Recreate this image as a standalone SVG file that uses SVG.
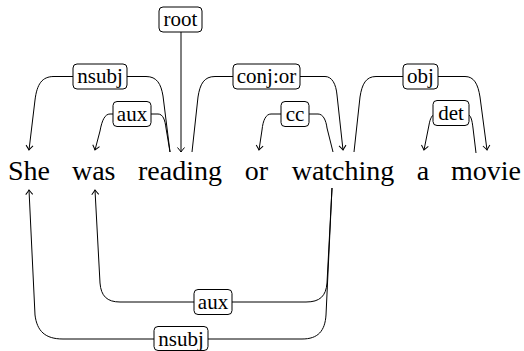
<svg xmlns="http://www.w3.org/2000/svg" width="524" height="351" viewBox="0 0 524 351">
<style>
.w{font-size:28px;fill:#000;text-anchor:middle}
.l{font-size:21px;fill:#000;text-anchor:middle}
.e{fill:none;stroke:#000;stroke-width:1}
.b{fill:#fff;stroke:#000;stroke-width:1}
</style>
<defs>
<marker id="ah" viewBox="-6 -5 7 10" markerWidth="7" markerHeight="10" refX="0" refY="0" orient="auto" markerUnits="userSpaceOnUse">
<path d="M-4.5,-3.5 Q-1.5,-1 0,0 Q-1.5,1 -4.5,3.5" fill="none" stroke="#000" stroke-width="1"/>
</marker>
</defs>
<rect width="524" height="351" fill="#fff"/>
<g id="connectors">
<path class="e" marker-end="url(#ah)" d="M181,32 L181,152"/>
<path class="e" marker-end="url(#ah)" d="M170,152 L163,96 C161,84 157,76.5 146,76.5 L54,76.5 C42,76.5 37,84 35,100 L29,150"/>
<path class="e" marker-end="url(#ah)" d="M170,152 L166,128 C165,120 163,114 158,114 L110,114 C105,114 102,120 100,131 L95,150"/>
<path class="e" marker-end="url(#ah)" d="M192,152 L198,97 C200,84 204,76.5 215,76.5 L325,76.5 C332,76.5 336,84 337,95 L343,150"/>
<path class="e" marker-end="url(#ah)" d="M333,152 L327,128 C326,120 323,114 318,114 L271,114 C266,114 263,120 262,130 L259,150"/>
<path class="e" marker-end="url(#ah)" d="M354,152 L360,97 C362,84 366,76.5 376,76.5 L465,76.5 C474,76.5 478,84 480,97 L487,150"/>
<path class="e" marker-end="url(#ah)" d="M476,153 L473,128 C472,120 471,114 466,114 L436,114 C432,114 430,119 429,125 L424,150"/>
<path class="e" marker-end="url(#ah)" d="M332,188 L327,283 C326,296 320,302 306,302 L120,302 C107,302 101,296 100,283 L95,190"/>
<path class="e" marker-end="url(#ah)" d="M332,188 L326,315 C325,331 318,339 302,339 L63,339 C45,339 37,331 35,315 L29,190"/>
</g>
<g font-family="Liberation Serif, Times New Roman, DejaVu Serif, serif">
<g id="words">
<text class="w" x="29" y="180">She</text>
<text class="w" x="93.7" y="180">was</text>
<text class="w" x="180" y="180">reading</text>
<text class="w" x="256.5" y="180">or</text>
<text class="w" x="343" y="180">watching</text>
<text class="w" x="423" y="180">a</text>
<text class="w" x="486" y="180">movie</text>
</g>
<g id="label-root"><rect class="b" x="159" y="7" width="43" height="25" rx="4"/><text class="l" x="180.5" y="26">root</text></g>
<g id="label-nsubj-top"><rect class="b" x="73" y="64" width="54" height="25" rx="4"/><text class="l" x="100" y="83">nsubj</text></g>
<g id="label-aux-top"><rect class="b" x="113" y="101.5" width="38" height="25" rx="4"/><text class="l" x="132" y="120.5">aux</text></g>
<g id="label-conj-or"><rect class="b" x="233" y="64" width="67" height="25" rx="4"/><text class="l" x="266.5" y="83">conj:or</text></g>
<g id="label-cc"><rect class="b" x="281" y="101.5" width="28" height="25" rx="4"/><text class="l" x="295" y="120.5">cc</text></g>
<g id="label-obj"><rect class="b" x="403" y="64" width="35" height="25" rx="4"/><text class="l" x="420.5" y="83">obj</text></g>
<g id="label-det"><rect class="b" x="433" y="100.5" width="36" height="25" rx="4"/><text class="l" x="451" y="119.5">det</text></g>
<g id="label-aux-bottom"><rect class="b" x="194" y="289.5" width="38" height="25" rx="4"/><text class="l" x="213" y="308.5">aux</text></g>
<g id="label-nsubj-bottom"><rect class="b" x="154" y="326.5" width="54" height="24" rx="4"/><text class="l" x="181" y="345.5">nsubj</text></g>
</g>
</svg>
